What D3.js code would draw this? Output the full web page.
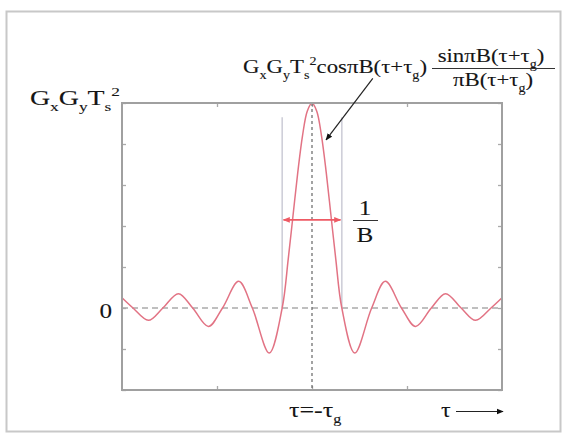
<!DOCTYPE html>
<html>
<head>
<meta charset="utf-8">
<script src="https://cdn.jsdelivr.net/npm/d3@7"></script>
<style>
body { margin: 0; background: #fff; }
svg text { font-family: "Liberation Serif", "Times New Roman", serif; fill: #151515; stroke: #151515; stroke-width: 0.1; }
</style>
</head>
<body>
<div id="main"></div>
<script>
// curve: x in plot units (-10..10), peak = 1
var curveX = [-10, -9.42, -8.61, -7.85, -7.03, -6.28, -5.45, -4.71, -3.86, -3.14, -2.25, -1.57,
              -1.25, -1.0, -0.75, -0.5, -0.25, 0, 0.25, 0.5, 0.75, 1.0, 1.25,
              1.57, 2.25, 3.14, 3.86, 4.71, 5.45, 6.28, 7.03, 7.85, 8.61, 9.42, 10];
var curveY = [0.05, 0, -0.06, 0, 0.07, 0, -0.09, 0, 0.13, 0, -0.22, 0,
              0.24, 0.45, 0.66, 0.84, 0.96, 1, 0.96, 0.84, 0.66, 0.45, 0.24,
              0, -0.22, 0, 0.13, 0, -0.09, 0, 0.07, 0, -0.06, 0, 0.05];
var xTicks = [-5, 0, 5];
var yTicks = [-0.4, -0.2, 0, 0.2, 0.4, 0.6, 0.8, 1];
var lobeEdges = [-1.57, 1.57];      // zero crossings of main lobe
var lobeTop = 0.93;
var widthArrowX = [-1.5, 1.5];
var widthArrowY = 0.43;
var pointerFrom = [3.2, 1.12];
var pointerTo = [0.74, 0.82];

var W = 567, H = 437;
var plotL = 122, plotR = 502, plotT = 103, plotB = 390;

var svg = d3.select('#main').append('svg')
            .attr('width', W)
            .attr('height', H);

var defs = svg.append('defs');
defs.append('marker')
    .attr('id', 'headBlack')
    .attr('viewBox', '0 0 10 10')
    .attr('refX', 9).attr('refY', 5)
    .attr('markerWidth', 7).attr('markerHeight', 7)
    .attr('markerUnits', 'userSpaceOnUse')
    .attr('orient', 'auto')
  .append('path')
    .attr('d', 'M0,1 L10,5 L0,9 Z')
    .attr('fill', '#111');
defs.append('marker')
    .attr('id', 'headRed')
    .attr('viewBox', '0 0 10 10')
    .attr('refX', 9).attr('refY', 5)
    .attr('markerWidth', 7).attr('markerHeight', 7)
    .attr('markerUnits', 'userSpaceOnUse')
    .attr('orient', 'auto-start-reverse')
  .append('path')
    .attr('d', 'M0,1 L10,5 L0,9 Z')
    .attr('fill', '#ee5a64');

// outer frame
svg.append('rect')
   .attr('x', 6.5).attr('y', 11.5)
   .attr('width', 554).attr('height', 420)
   .attr('fill', 'none')
   .attr('stroke', '#c8c8c8')
   .attr('stroke-width', 2);

var x = d3.scaleLinear().domain([-10, 10]).range([plotL, plotR]);
var y = d3.scaleLinear().domain([-0.4, 1]).range([plotB, plotT]);

// ticks, pointing inward
function ticks(axis, tx, ty) {
	var g = svg.append('g')
	           .attr('transform', 'translate(' + tx + ',' + ty + ')')
	           .call(axis);
	g.select('.domain').remove();
	g.selectAll('line').attr('stroke', '#aaa').attr('stroke-width', 1.3);
	g.selectAll('text').remove();
}
ticks(d3.axisLeft(y).tickValues(yTicks).tickSize(-4), plotL, 0);
ticks(d3.axisRight(y).tickValues(yTicks).tickSize(-4), plotR, 0);
ticks(d3.axisBottom(x).tickValues(xTicks).tickSize(-4), 0, plotB);
ticks(d3.axisTop(x).tickValues(xTicks).tickSize(-4), 0, plotT);

// zero line and centre line
svg.append('line')
   .attr('x1', plotL).attr('x2', plotR)
   .attr('y1', y(0)).attr('y2', y(0))
   .attr('stroke', '#aaa')
   .attr('stroke-width', 1.3)
   .attr('stroke-dasharray', '6,4');
svg.append('line')
   .attr('x1', x(0)).attr('x2', x(0))
   .attr('y1', plotT).attr('y2', plotB)
   .attr('stroke', '#666')
   .attr('stroke-width', 1.2)
   .attr('stroke-dasharray', '3,3');

// main lobe width marks
svg.selectAll('.edge')
   .data(lobeEdges)
   .enter().append('line')
   .attr('class', 'edge')
   .attr('x1', function(d) { return x(d); })
   .attr('x2', function(d) { return x(d); })
   .attr('y1', y(lobeTop)).attr('y2', y(0))
   .attr('stroke', '#cbcbd6')
   .attr('stroke-width', 1.5);

// curve
var pts = curveX.map(function(d, i) { return [d, curveY[i]]; });
var line = d3.line()
             .x(function(d) { return x(d[0]); })
             .y(function(d) { return y(d[1]); })
             .curve(d3.curveCatmullRom.alpha(0.5));
svg.append('path')
   .attr('d', line(pts))
   .attr('fill', 'none')
   .attr('stroke', '#e27384')
   .attr('stroke-width', 1.5);

// box
svg.append('rect')
   .attr('x', plotL).attr('y', plotT)
   .attr('width', plotR - plotL).attr('height', plotB - plotT)
   .attr('fill', 'none')
   .attr('stroke', '#a0a0a0')
   .attr('stroke-width', 2);

// width arrow
svg.append('line')
   .attr('x1', x(widthArrowX[0])).attr('x2', x(widthArrowX[1]))
   .attr('y1', y(widthArrowY)).attr('y2', y(widthArrowY))
   .attr('stroke', '#ee5a64')
   .attr('stroke-width', 1.8)
   .attr('marker-start', 'url(#headRed)')
   .attr('marker-end', 'url(#headRed)');

// pointer to the curve
svg.append('line')
   .attr('x1', x(pointerFrom[0])).attr('y1', y(pointerFrom[1]))
   .attr('x2', x(pointerTo[0])).attr('y2', y(pointerTo[1]))
   .attr('stroke', '#222')
   .attr('stroke-width', 1.2)
   .attr('marker-end', 'url(#headBlack)');

// text with sub/superscripts, glyphs a bit wide as in the picture
function mathText(px, py, parts, size, anchor, sx) {
	var t = svg.append('text')
	           .attr('transform', 'translate(' + px + ',' + py + ') scale(' + (sx || 1.2) + ',1)')
	           .attr('font-size', size)
	           .attr('text-anchor', anchor || 'start');
	var shift = 0;
	parts.forEach(function(p) {
		var off = p[1] == 'sub' ? size * 0.3 : p[1] == 'sup' ? -size * 0.42 : 0;
		t.append('tspan')
		 .attr('dy', off - shift)
		 .attr('font-size', p[1] ? size * 0.62 : size)
		 .text(p[0]);
		shift = off;
	});
	return t;
}

mathText(120, 105, [['G'], ['x', 'sub'], ['G'], ['y', 'sub'], ['T'], ['s', 'sub'], ['2', 'sup']], 21, 'end', 1.33);
mathText(112, 318, [['0']], 21, 'end');

mathText(243, 73, [['G'], ['x', 'sub'], ['G'], ['y', 'sub'], ['T'], ['s', 'sub'], ['2', 'sup'],
                   ['cosπB(τ+'], ['τ'], ['g', 'sub'], [')']], 19, 'start');
mathText(491, 62, [['sinπB(τ+'], ['τ'], ['g', 'sub'], [')']], 19, 'middle');
svg.append('line')
   .attr('x1', 432).attr('x2', 555)
   .attr('y1', 68.5).attr('y2', 68.5)
   .attr('stroke', '#333').attr('stroke-width', 1);
mathText(493, 86, [['πB(τ+'], ['τ'], ['g', 'sub'], [')']], 19, 'middle');

// 1/B
mathText(365, 215, [['1']], 21, 'middle');
svg.append('line')
   .attr('x1', 353).attr('x2', 378)
   .attr('y1', 220.5).attr('y2', 220.5)
   .attr('stroke', '#333').attr('stroke-width', 1);
mathText(365, 242, [['B']], 21, 'middle');

// bottom labels
mathText(289, 417, [['τ=-τ'], ['g', 'sub']], 20, 'start', 1.3);
mathText(441, 417, [['τ']], 20, 'start');
svg.append('line')
   .attr('x1', 456).attr('x2', 503)
   .attr('y1', 411.5).attr('y2', 411.5)
   .attr('stroke', '#222')
   .attr('stroke-width', 1.2)
   .attr('marker-end', 'url(#headBlack)');
</script>
</body>
</html>
